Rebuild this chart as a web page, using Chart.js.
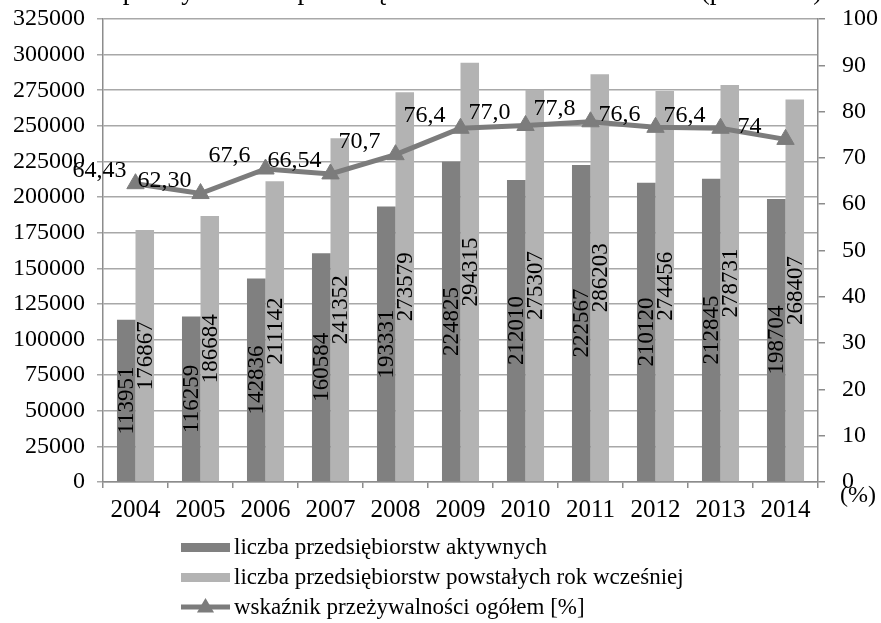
<!DOCTYPE html>
<html>
<head>
<meta charset="utf-8">
<script src="https://cdn.jsdelivr.net/npm/chart.js@4/dist/chart.umd.min.js"></script>
<style>
html,body{margin:0;padding:0;background:#ffffff;}
#wrap{width:881px;height:623px;position:relative;}
</style>
</head>
<body>
<div id="wrap"><canvas id="c" width="881" height="623"></canvas></div>
<script>
// ---- data ----
const years = ['2004','2005','2006','2007','2008','2009','2010','2011','2012','2013','2014'];
const aktywne = [113951,116259,142836,160584,193331,224825,212010,222567,210120,212845,198704];
const powstale = [176867,186684,211142,241352,273579,294315,275307,286203,274456,278731,268407];
const wskaznik = [64.43,62.30,67.6,66.54,70.7,76.4,77.0,77.8,76.6,76.4,74];
const wskaznikLabels = ['64,43','62,30','67,6','66,54','70,7','76,4','77,0','77,8','76,6','76,4','74'];
const seriesNames = ['liczba przedsiębiorstw aktywnych','liczba przedsiębiorstw powstałych rok wcześniej','wskaźnik przeżywalności ogółem [%]'];
const leftAxis = {min:0, max:325000, step:25000};
const rightAxis = {min:0, max:100, step:10};
const rightAxisTitle = '(%)';
const chartTitle = 'Wskaźnik przeżywalności przedsiębiorstw w latach 2004–2014 (po 1 roku)';

// ---- styles ----
const FONT = '"Liberation Serif","Times New Roman",serif';
const DARK = '#808080';
const LIGHT = '#b3b3b3';
const LINE = '#7c7c7c';
const GRID = '#a8a8a8';
const AXIS = '#8c8c8c';

const barLabelPlugin = {
  id:'barLabels',
  afterDatasetsDraw(chart){
    const ctx = chart.ctx;
    ctx.save();
    ctx.fillStyle = '#000';
    ctx.font = '23px ' + FONT;
    ctx.textAlign = 'center';
    ctx.textBaseline = 'middle';
    chart.data.datasets.forEach((ds, di) => {
      if (ds.type !== 'bar') return;
      const meta = chart.getDatasetMeta(di);
      meta.data.forEach((el, i) => {
        const cy = (el.y + el.base) / 2;
        ctx.save();
        ctx.translate(el.x, cy);
        ctx.rotate(-Math.PI/2);
        ctx.fillText(String(ds.data[i]), 0, 1);
        ctx.restore();
      });
    });
    chart.data.datasets.forEach((ds, di) => {
      if (ds.type !== 'line') return;
      const meta = chart.getDatasetMeta(di);
      ctx.font = '24px ' + FONT;
      meta.data.forEach((el, i) => {
        ctx.fillText(wskaznikLabels[i], el.x - 36, el.y - 13);
      });
    });
    ctx.restore();
  }
};

const extrasPlugin = {
  id:'extras',
  afterDraw(chart){
    const ctx = chart.ctx;
    const ca = chart.chartArea;
    ctx.save();
    ctx.fillStyle = '#000';
    ctx.font = '27px ' + FONT;
    ctx.textAlign = 'left';
    ctx.textBaseline = 'alphabetic';
    ctx.fillText(chartTitle, 8, -1);
    ctx.font = '24px ' + FONT;
    ctx.textAlign = 'center';
    ctx.textBaseline = 'middle';
    ctx.fillText(rightAxisTitle, ca.right + 40, ca.bottom + 14);
    const rows = [547, 577, 607];
    const sx = 181, sw = 49, tx = 234;
    ctx.font = '23px ' + FONT;
    ctx.textAlign = 'left';
    ctx.textBaseline = 'middle';
    chart.data.datasets.forEach((ds, di) => {
      const y = rows[di];
      if (ds.type === 'bar') {
        ctx.fillStyle = ds.backgroundColor;
        ctx.fillRect(sx, y - 4, sw, 9);
      } else {
        ctx.strokeStyle = ds.borderColor;
        ctx.lineWidth = 5;
        ctx.beginPath();
        ctx.moveTo(sx, y); ctx.lineTo(sx + sw, y);
        ctx.stroke();
        ctx.fillStyle = ds.pointBackgroundColor;
        const cx = sx + sw/2, r = 9;
        ctx.beginPath();
        ctx.moveTo(cx, y - r);
        ctx.lineTo(cx + r*0.95, y + r*0.6);
        ctx.lineTo(cx - r*0.95, y + r*0.6);
        ctx.closePath();
        ctx.fill();
      }
      ctx.fillStyle = '#000';
      ctx.fillText(ds.label, tx, y + 1);
    });
    ctx.restore();
  }
};

function fixV(w){ return function(s){ s.width = w; s.paddingTop = 0; s.paddingBottom = 0; }; }

new Chart(document.getElementById('c'), {
  data: {
    labels: years,
    datasets: [
      {type:'bar', label: seriesNames[0], data: aktywne, backgroundColor: DARK, yAxisID:'y', order:1,
       barPercentage:1.0, categoryPercentage:0.57},
      {type:'bar', label: seriesNames[1], data: powstale, backgroundColor: LIGHT, yAxisID:'y', order:1,
       barPercentage:1.0, categoryPercentage:0.57},
      {type:'line', label: seriesNames[2], data: wskaznik, yAxisID:'y1', order:0,
       borderColor: LINE, borderWidth:5, tension:0,
       pointStyle:'triangle', pointRadius:10, pointHoverRadius:10,
       pointBackgroundColor: LINE, pointBorderColor: LINE, pointBorderWidth:1}
    ]
  },
  options: {
    responsive:false,
    animation:false,
    devicePixelRatio:1,
    layout:{padding:{top:19, left:0, right:0, bottom:0}},
    plugins:{legend:{display:false}, tooltip:{enabled:false}, title:{display:false}},
    scales:{
      x:{
        offset:true,
        grid:{display:true, drawOnChartArea:false, drawTicks:true, tickLength:6, offset:true, color:AXIS, lineWidth:1.5},
        border:{display:true, color:AXIS, width:1.5},
        ticks:{color:'#000', font:{family:FONT, size:25}, padding:7, maxRotation:0, autoSkip:false},
        afterFit(s){ s.height = 141; s.paddingLeft = 0; s.paddingRight = 0; }
      },
      y:{
        position:'left',
        min:leftAxis.min, max:leftAxis.max,
        grid:{color:GRID, lineWidth:1.5, tickLength:6, drawTicks:true},
        border:{display:true, color:AXIS, width:1.5},
        ticks:{stepSize:leftAxis.step, color:'#000', font:{family:FONT, size:24}, padding:12,
               callback:(v)=>String(v)},
        afterFit: fixV(103)
      },
      y1:{
        position:'right',
        min:rightAxis.min, max:rightAxis.max,
        grid:{drawOnChartArea:false, drawTicks:true, tickLength:7, color:AXIS, lineWidth:1.5},
        border:{display:true, color:AXIS, width:1.5},
        ticks:{stepSize:rightAxis.step, color:'#000', font:{family:FONT, size:24}, padding:17},
        afterFit: fixV(63)
      }
    }
  },
  plugins:[barLabelPlugin, extrasPlugin]
});
</script>
</body>
</html>
